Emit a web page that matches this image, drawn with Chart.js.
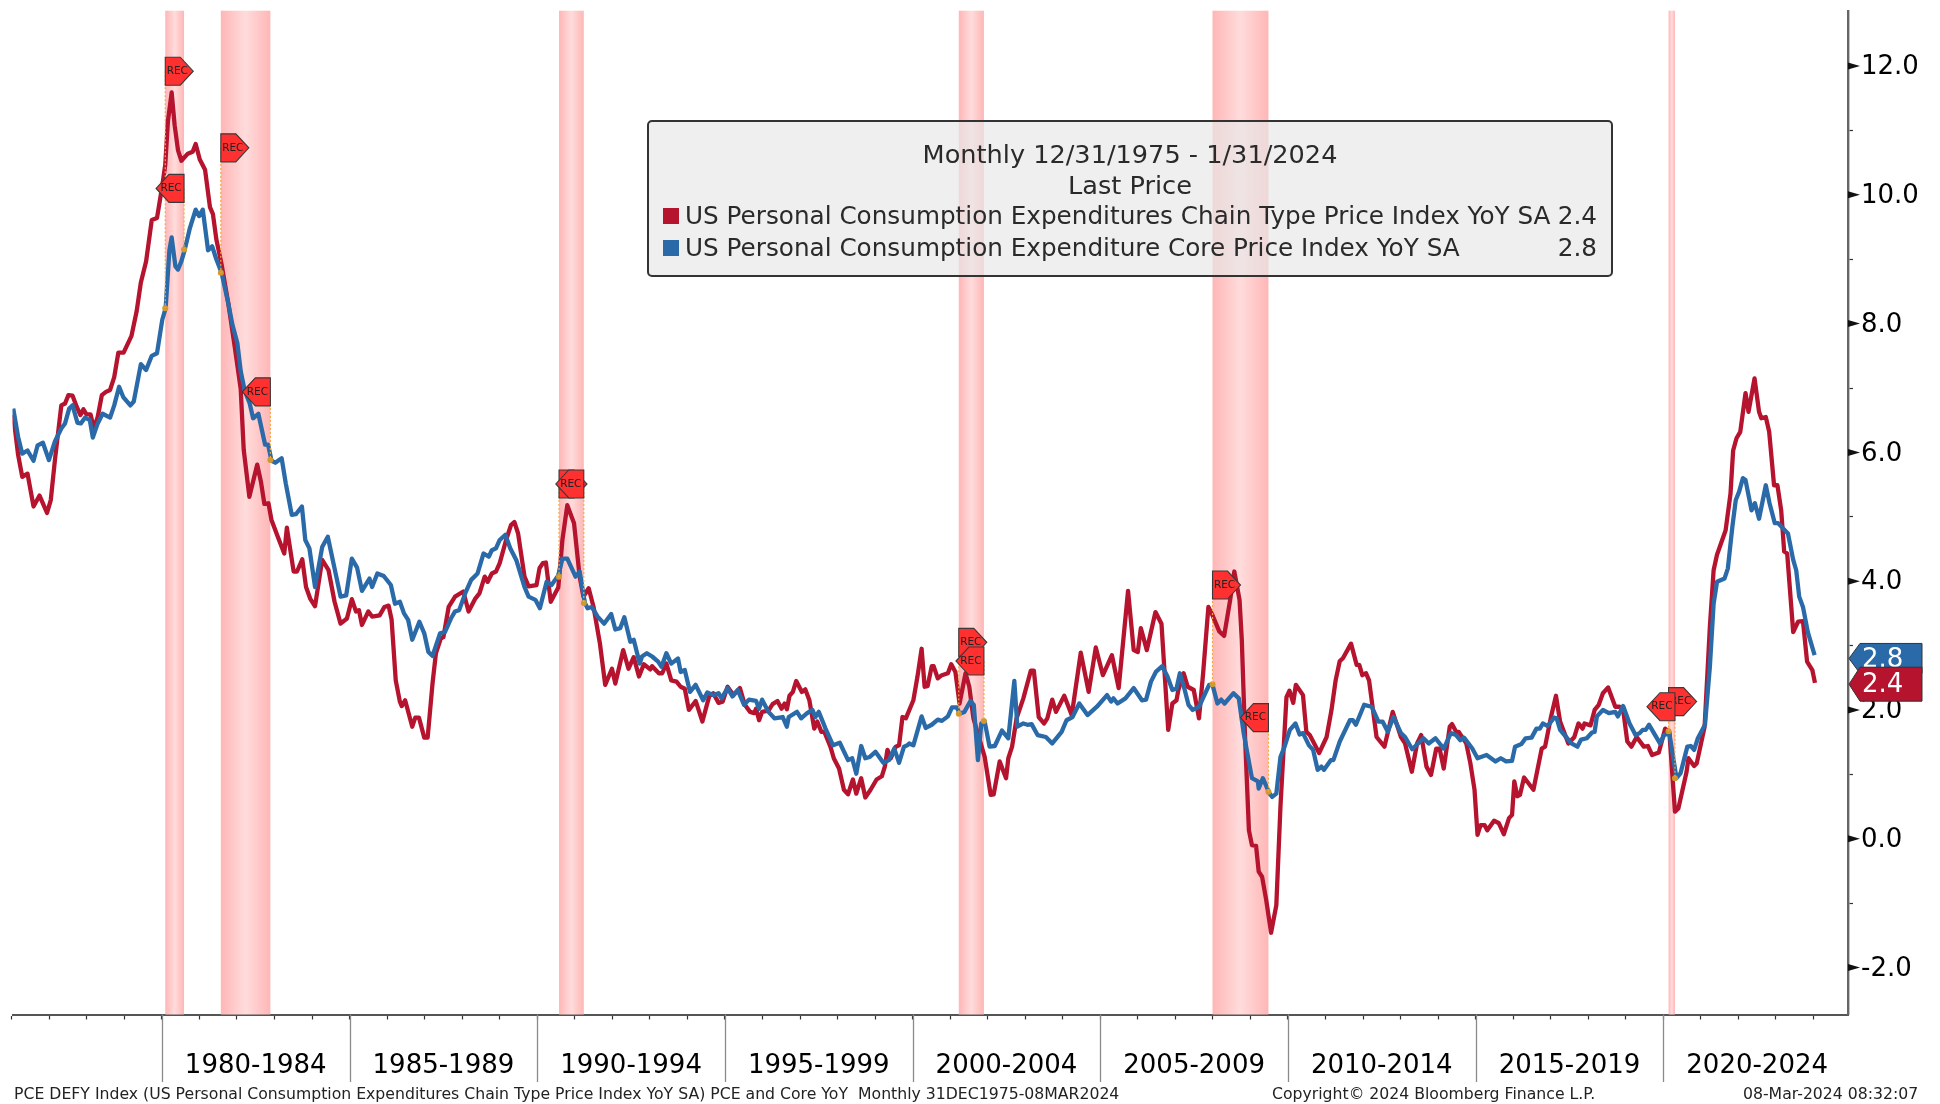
<!DOCTYPE html>
<html><head><meta charset="utf-8">
<script src="https://cdn.jsdelivr.net/npm/chart.js@4/dist/chart.umd.min.js"></script>
<style>
html,body{margin:0;padding:0;background:#fff;overflow:hidden;width:1940px;height:1104px;font-family:"DejaVu Sans",sans-serif}
#wrap{position:relative;width:1940px;height:1104px}
canvas{position:absolute;left:0;top:0}
#legend{position:absolute;left:647px;top:120px;width:966px;height:157px;box-sizing:border-box;border:2px solid #333;border-radius:5px;color:#2a2a2a;font-size:24.7px}
#legend .c{position:absolute;left:0;width:100%;text-align:center;line-height:32px;font-size:25.6px}
#legend .r{position:absolute;left:14px;right:14px;line-height:32px;white-space:nowrap}
#legend .r i{position:absolute;left:0;top:8px;width:16px;height:16px}
#legend .r span{position:absolute;left:22px}
#legend .r b{position:absolute;right:0;font-weight:normal}
.ft{position:absolute;top:1085px;font-size:15.7px;line-height:18px;color:#222;white-space:pre}
</style></head><body>
<div id="wrap">
<canvas id="c" width="1940" height="1104"></canvas>
<div id="legend">
<div class="c" style="top:16px" id="l1"></div>
<div class="c" style="top:47px" id="l2"></div>
<div class="r" style="top:78px"><i id="s1"></i><span id="n1"></span><b id="v1"></b></div>
<div class="r" style="top:110px"><i id="s2"></i><span id="n2"></span><b id="v2"></b></div>
</div>
<div class="ft" id="f1" style="left:14px"></div>
<div class="ft" id="f2" style="left:1272px"></div>
<div class="ft" id="f3" style="left:1743px"></div>
</div>
<script>
const pceYears=[1976.04,1976.17,1976.28,1976.42,1976.58,1976.74,1976.94,1977.04,1977.15,1977.32,1977.42,1977.51,1977.62,1977.73,1977.83,1977.91,1977.99,1978.10,1978.19,1978.29,1978.40,1978.51,1978.62,1978.73,1978.84,1978.98,1979.19,1979.33,1979.44,1979.58,1979.73,1979.87,1980.01,1980.09,1980.16,1980.26,1980.34,1980.43,1980.52,1980.69,1980.82,1980.90,1981.01,1981.15,1981.28,1981.36,1981.45,1981.59,1981.77,1981.94,1982.10,1982.18,1982.33,1982.54,1982.64,1982.73,1982.84,1982.92,1983.08,1983.26,1983.33,1983.51,1983.60,1983.74,1983.84,1983.95,1984.08,1984.27,1984.44,1984.60,1984.76,1984.93,1985.06,1985.17,1985.25,1985.33,1985.50,1985.60,1985.80,1985.93,1986.04,1986.12,1986.23,1986.34,1986.39,1986.48,1986.67,1986.75,1986.85,1986.99,1987.08,1987.21,1987.30,1987.43,1987.50,1987.64,1987.81,1988.03,1988.17,1988.35,1988.46,1988.60,1988.68,1988.79,1988.90,1989.00,1989.17,1989.30,1989.39,1989.49,1989.66,1989.77,1989.98,1990.06,1990.15,1990.23,1990.36,1990.56,1990.67,1990.80,1990.98,1991.13,1991.23,1991.37,1991.50,1991.67,1991.81,1991.99,1992.08,1992.29,1992.43,1992.57,1992.71,1992.84,1993.01,1993.06,1993.24,1993.33,1993.44,1993.57,1993.71,1993.82,1993.93,1994.04,1994.22,1994.40,1994.58,1994.69,1994.83,1994.94,1995.07,1995.23,1995.40,1995.53,1995.67,1995.78,1995.83,1995.91,1995.99,1996.16,1996.27,1996.40,1996.51,1996.59,1996.65,1996.72,1996.81,1996.90,1997.05,1997.14,1997.25,1997.38,1997.46,1997.57,1997.65,1997.81,1997.90,1998.04,1998.17,1998.28,1998.41,1998.50,1998.63,1998.74,1998.88,1999.04,1999.18,1999.26,1999.33,1999.42,1999.55,1999.64,1999.73,1999.82,2000.02,2000.13,2000.24,2000.32,2000.40,2000.51,2000.56,2000.67,2000.78,2000.94,2001.03,2001.14,2001.25,2001.41,2001.51,2001.62,2001.92,2002.08,2002.16,2002.32,2002.49,2002.55,2002.65,2002.77,2002.95,2003.15,2003.23,2003.36,2003.50,2003.59,2003.72,2003.82,2004.04,2004.24,2004.48,2004.69,2004.88,2005.07,2005.31,2005.49,2005.74,2005.89,2006.00,2006.08,2006.24,2006.47,2006.63,2006.81,2006.92,2007.03,2007.08,2007.22,2007.33,2007.49,2007.63,2007.74,2007.88,2007.99,2008.17,2008.30,2008.46,2008.57,2008.71,2008.77,2008.86,2008.96,2009.04,2009.15,2009.22,2009.31,2009.42,2009.55,2009.69,2009.80,2009.96,2010.04,2010.14,2010.21,2010.40,2010.49,2010.58,2010.83,2011.03,2011.16,2011.27,2011.38,2011.46,2011.68,2011.83,2011.90,2011.98,2012.08,2012.16,2012.36,2012.57,2012.79,2013.01,2013.12,2013.30,2013.44,2013.55,2013.69,2013.81,2013.95,2014.04,2014.15,2014.31,2014.37,2014.48,2014.55,2014.75,2014.86,2014.97,2015.05,2015.13,2015.24,2015.31,2015.49,2015.62,2015.75,2015.89,2015.97,2016.03,2016.11,2016.18,2016.29,2016.54,2016.76,2016.85,2017.01,2017.14,2017.25,2017.47,2017.63,2017.74,2017.85,2017.90,2018.06,2018.17,2018.28,2018.39,2018.53,2018.72,2018.83,2018.93,2019.04,2019.15,2019.29,2019.48,2019.59,2019.70,2019.88,2020.05,2020.16,2020.31,2020.40,2020.62,2020.67,2020.82,2020.89,2021.10,2021.24,2021.34,2021.43,2021.66,2021.79,2021.86,2021.95,2022.05,2022.19,2022.27,2022.43,2022.55,2022.61,2022.73,2022.82,2022.95,2023.04,2023.14,2023.22,2023.30,2023.46,2023.59,2023.72,2023.83,2023.97,2024.04];
const pceValues=[6.58,5.96,5.62,5.67,5.16,5.33,5.06,5.26,5.88,6.73,6.76,6.89,6.88,6.71,6.58,6.67,6.59,6.59,6.37,6.55,6.89,6.94,6.97,7.17,7.55,7.55,7.81,8.20,8.64,8.97,9.61,9.64,10.14,10.47,11.14,11.59,11.08,10.69,10.53,10.64,10.67,10.79,10.55,10.39,9.81,9.70,9.31,8.92,8.31,7.64,6.98,6.04,5.31,5.81,5.54,5.20,5.21,4.95,4.70,4.43,4.83,4.15,4.15,4.34,3.91,3.73,3.61,4.33,4.17,3.68,3.34,3.42,3.72,3.53,3.55,3.32,3.53,3.45,3.47,3.60,3.62,3.40,2.46,2.13,2.06,2.15,1.74,1.88,1.88,1.57,1.57,2.41,2.88,3.11,3.13,3.60,3.76,3.84,3.53,3.73,3.81,4.07,3.99,4.12,4.15,4.28,4.64,4.87,4.92,4.74,4.07,3.92,3.94,4.20,4.28,4.29,3.68,3.90,4.64,5.18,4.90,4.07,3.76,3.89,3.60,3.03,2.39,2.64,2.41,2.93,2.64,2.82,2.52,2.71,2.63,2.68,2.57,2.57,2.72,2.46,2.44,2.36,2.33,2.00,2.14,1.82,2.21,2.26,2.11,2.13,2.36,2.23,2.34,2.08,1.97,1.95,2.02,1.84,1.97,1.99,2.09,2.14,2.02,2.10,2.01,2.22,2.28,2.45,2.28,2.32,2.15,1.71,1.82,1.66,1.66,1.43,1.25,1.09,0.76,0.69,0.92,0.70,0.94,0.64,0.76,0.92,0.97,1.12,1.38,1.25,1.43,1.45,1.89,1.87,2.15,2.52,2.95,2.36,2.37,2.68,2.68,2.49,2.54,2.57,2.71,2.59,2.10,2.57,2.36,1.87,1.27,0.68,0.69,1.20,0.94,1.25,1.43,1.87,2.18,2.61,2.61,1.89,1.79,1.87,2.16,1.97,2.22,1.92,2.89,2.28,2.97,2.54,2.85,2.34,3.85,2.93,2.90,3.27,2.93,3.52,3.34,1.69,2.10,2.15,2.31,2.57,2.36,2.31,1.87,2.57,3.60,3.47,3.22,3.15,3.71,4.15,3.71,3.09,1.53,0.13,-0.10,-0.11,-0.51,-0.59,-0.95,-1.46,-1.03,0.50,2.20,2.30,2.11,2.39,2.23,1.66,1.61,1.33,1.58,2.00,2.46,2.76,2.80,3.03,2.70,2.70,2.54,2.57,2.46,1.58,1.43,1.97,1.58,1.48,1.04,1.48,1.61,1.12,0.99,1.40,1.40,1.09,1.74,1.78,1.66,1.66,1.48,1.17,0.76,0.06,0.21,0.21,0.13,0.28,0.24,0.07,0.32,0.37,0.89,0.66,0.68,0.95,0.76,1.40,1.43,1.90,2.22,1.82,1.48,1.58,1.79,1.71,1.79,1.76,2.00,2.08,2.26,2.35,2.05,2.05,2.00,1.51,1.43,1.58,1.43,1.44,1.30,1.34,1.71,1.66,0.42,0.47,1.04,1.25,1.13,1.17,1.74,3.29,4.17,4.41,4.79,5.36,6.03,6.22,6.32,6.92,6.63,7.15,6.63,6.53,6.55,6.32,5.49,5.49,5.10,4.46,4.43,3.21,3.37,3.38,2.75,2.62,2.42];
const coreYears=[1976.04,1976.17,1976.28,1976.42,1976.58,1976.69,1976.83,1976.99,1977.15,1977.32,1977.42,1977.53,1977.62,1977.75,1977.84,1977.95,1978.08,1978.16,1978.29,1978.42,1978.62,1978.73,1978.86,1978.97,1979.16,1979.25,1979.44,1979.58,1979.73,1979.87,1980.01,1980.10,1980.20,1980.26,1980.36,1980.43,1980.52,1980.61,1980.74,1980.90,1980.99,1981.09,1981.23,1981.34,1981.45,1981.59,1981.77,1981.88,1982.01,1982.10,1982.21,1982.34,1982.43,1982.57,1982.75,1982.83,1982.92,1983.02,1983.19,1983.30,1983.46,1983.57,1983.73,1983.82,1983.93,1984.08,1984.27,1984.42,1984.76,1984.91,1985.06,1985.20,1985.33,1985.53,1985.60,1985.74,1985.91,1986.10,1986.21,1986.34,1986.45,1986.56,1986.67,1986.86,1986.99,1987.10,1987.21,1987.41,1987.54,1987.70,1987.81,1987.92,1988.08,1988.24,1988.41,1988.57,1988.71,1988.79,1988.90,1989.00,1989.15,1989.28,1989.44,1989.66,1989.77,1989.95,1990.07,1990.25,1990.38,1990.56,1990.67,1990.80,1991.02,1991.13,1991.27,1991.34,1991.45,1991.61,1991.78,1991.97,1992.08,1992.21,1992.32,1992.48,1992.57,1992.73,1992.79,1992.92,1993.06,1993.22,1993.31,1993.44,1993.57,1993.75,1993.82,1993.93,1994.07,1994.22,1994.42,1994.53,1994.69,1994.83,1994.91,1995.07,1995.20,1995.34,1995.51,1995.64,1995.83,1995.91,1995.99,1996.16,1996.32,1996.54,1996.65,1996.70,1996.92,1997.03,1997.19,1997.33,1997.41,1997.50,1997.68,1997.88,1998.06,1998.28,1998.39,1998.50,1998.63,1998.74,1998.86,1999.01,1999.22,1999.37,1999.51,1999.64,1999.77,1999.86,1999.91,2000.02,2000.24,2000.35,2000.51,2000.67,2000.78,2000.94,2001.05,2001.18,2001.25,2001.38,2001.54,2001.63,2001.74,2001.83,2001.92,2002.05,2002.19,2002.38,2002.55,2002.71,2002.79,2002.95,2003.06,2003.17,2003.33,2003.55,2003.72,2003.97,2004.10,2004.26,2004.44,2004.66,2004.91,2005.18,2005.29,2005.35,2005.46,2005.67,2005.89,2006.11,2006.22,2006.35,2006.48,2006.65,2006.79,2006.92,2007.03,2007.12,2007.25,2007.35,2007.46,2007.63,2007.90,2007.99,2008.12,2008.22,2008.31,2008.55,2008.69,2008.82,2009.04,2009.20,2009.22,2009.33,2009.51,2009.58,2009.69,2009.80,2009.91,2010.05,2010.20,2010.31,2010.40,2010.56,2010.67,2010.79,2010.89,2010.96,2011.14,2011.21,2011.38,2011.65,2011.73,2011.81,2012.03,2012.23,2012.41,2012.52,2012.66,2012.81,2013.01,2013.12,2013.31,2013.61,2013.75,2013.93,2014.15,2014.34,2014.48,2014.59,2014.69,2014.91,2015.05,2015.29,2015.53,2015.67,2015.81,2015.97,2016.05,2016.22,2016.33,2016.49,2016.62,2016.71,2016.79,2016.92,2017.09,2017.16,2017.25,2017.41,2017.55,2017.71,2017.81,2017.96,2018.10,2018.17,2018.23,2018.39,2018.55,2018.72,2018.79,2018.93,2019.10,2019.26,2019.37,2019.45,2019.53,2019.62,2019.75,2019.91,2020.02,2020.16,2020.35,2020.46,2020.64,2020.73,2020.82,2020.92,2021.11,2021.24,2021.34,2021.43,2021.63,2021.72,2021.84,2021.93,2022.02,2022.12,2022.19,2022.35,2022.44,2022.55,2022.73,2022.83,2022.97,2023.06,2023.19,2023.32,2023.46,2023.54,2023.62,2023.72,2023.85,2024.03];
const coreValues=[6.68,6.24,5.98,6.03,5.87,6.11,6.15,5.88,6.17,6.37,6.45,6.68,6.73,6.46,6.45,6.54,6.50,6.23,6.45,6.60,6.54,6.73,7.02,6.86,6.73,6.79,7.37,7.28,7.50,7.54,8.06,8.24,9.14,9.34,8.89,8.84,8.97,9.15,9.47,9.77,9.67,9.77,9.14,9.20,9.00,8.79,8.31,7.98,7.70,7.26,6.95,6.76,6.53,6.60,6.12,6.12,5.87,5.84,5.91,5.52,5.03,5.04,5.16,4.64,4.51,3.91,4.53,4.69,3.76,3.78,4.35,4.21,3.85,4.04,3.91,4.12,4.08,3.94,3.65,3.68,3.50,3.40,3.09,3.37,3.19,2.90,2.84,3.19,3.21,3.42,3.53,3.55,3.81,4.02,4.12,4.43,4.38,4.48,4.51,4.64,4.72,4.51,4.33,3.91,3.76,3.71,3.58,3.99,3.94,4.09,4.35,4.35,4.07,4.15,3.66,3.58,3.60,3.45,3.34,3.49,3.25,3.27,3.44,3.06,3.09,2.72,2.83,2.88,2.83,2.75,2.67,2.88,2.72,2.80,2.59,2.62,2.28,2.39,2.15,2.27,2.23,2.26,2.18,2.34,2.21,2.31,2.08,2.16,2.14,2.02,2.16,1.97,1.87,1.89,1.74,1.89,1.97,1.87,1.95,2.00,1.89,1.97,1.71,1.45,1.49,1.22,1.25,1.01,1.44,1.25,1.27,1.35,1.18,1.22,1.40,1.18,1.43,1.45,1.48,1.45,1.90,1.72,1.77,1.85,1.83,1.90,2.04,2.04,1.94,1.97,2.14,2.08,1.22,1.79,1.82,1.43,1.44,1.68,1.56,2.45,1.74,1.79,1.77,1.78,1.61,1.58,1.48,1.66,1.84,1.89,2.10,1.92,2.05,2.23,2.13,2.18,2.10,2.18,2.34,2.15,2.16,2.44,2.59,2.68,2.52,2.31,2.33,2.57,2.31,2.08,2.00,2.05,2.39,2.39,2.10,2.16,2.10,2.26,2.18,1.64,0.94,0.89,0.78,0.94,0.70,0.65,0.70,1.27,1.43,1.69,1.79,1.62,1.64,1.45,1.38,1.07,1.12,1.07,1.22,1.22,1.51,1.84,1.84,1.77,2.08,2.05,1.82,1.82,1.66,1.89,1.64,1.58,1.39,1.56,1.48,1.56,1.40,1.64,1.61,1.53,1.57,1.40,1.25,1.30,1.20,1.25,1.20,1.21,1.43,1.47,1.56,1.57,1.71,1.71,1.79,1.75,1.88,1.87,1.69,1.58,1.48,1.43,1.54,1.56,1.65,1.66,1.90,2.00,1.95,1.97,1.90,2.06,1.79,1.61,1.64,1.69,1.69,1.77,1.64,1.48,1.61,1.64,0.94,1.02,1.43,1.44,1.38,1.56,1.77,2.67,3.65,3.99,4.04,4.20,4.85,5.26,5.39,5.60,5.57,5.10,5.21,4.97,5.49,5.21,4.90,4.90,4.82,4.74,4.33,4.17,3.76,3.60,3.21,2.85];

const periodLabels=['1980-1984','1985-1989','1990-1994','1995-1999','2000-2004','2005-2009','2010-2014','2015-2019','2020-2024'];
const periodStarts=[1980,1985,1990,1995,2000,2005,2010,2015,2020,2025];
const yearTicks=[1976,1977,1978,1979,1980,1981,1982,1983,1984,1985,1986,1987,1988,1989,1990,1991,1992,1993,1994,1995,1996,1997,1998,1999,2000,2001,2002,2003,2004,2005,2006,2007,2008,2009,2010,2011,2012,2013,2014,2015,2016,2017,2018,2019,2020,2021,2022,2023,2024];

const recessionStarts=[1980.09,1981.57,1990.58,2001.23,2007.99,2020.14];
const recessionEnds=[1980.59,1982.89,1991.24,2001.90,2009.48,2020.31];
const recStartFlagValues=[11.92,10.73,5.51,3.05,3.94,2.13];
const recEndFlagValues=[10.10,6.94,5.51,2.76,1.88,2.05];
const recStartDots=[8.24,8.79,4.07,1.94,2.40,1.67];
const recEndDots=[9.15,5.88,3.66,1.83,0.73,0.94];

const seriesNames=['US Personal Consumption Expenditures Chain Type Price Index YoY SA','US Personal Consumption Expenditure Core Price Index YoY SA'];
const lastPrices=[2.4,2.8];
const RED='#b5132e',BLUE='#2a6aa8';

document.getElementById('l1').textContent='Monthly 12/31/1975 - 1/31/2024';
document.getElementById('l2').textContent='Last Price';
document.getElementById('n1').textContent=seriesNames[0];
document.getElementById('n2').textContent=seriesNames[1];
document.getElementById('v1').textContent=lastPrices[0].toFixed(1);
document.getElementById('v2').textContent=lastPrices[1].toFixed(1);
document.getElementById('s1').style.background=RED;
document.getElementById('s2').style.background=BLUE;
document.getElementById('f1').textContent='PCE DEFY Index (US Personal Consumption Expenditures Chain Type Price Index YoY SA) PCE and Core YoY  Monthly 31DEC1975-08MAR2024';
document.getElementById('f2').textContent='Copyright© 2024 Bloomberg Finance L.P.';
document.getElementById('f3').textContent='08-Mar-2024 08:32:07';

const zip=(xs,ys)=>xs.map((x,i)=>({x,y:ys[i]}));
const dots=[...zip(recessionStarts,recStartDots),...zip(recessionEnds,recEndDots)];

const deco={
 id:'deco',
 beforeDraw(ch){
  if(ch.$nudged)return;ch.$nudged=true;
  ch.scales.y.getLabelItems().forEach(it=>{it.options.translation[1]+=1.5;});
 },
 beforeDatasetsDraw(ch){
  const {ctx,chartArea:a,scales:{x}}=ch;
  ctx.save();
  recessionStarts.forEach((s,i)=>{
   const l=x.getPixelForValue(s),r=x.getPixelForValue(recessionEnds[i]);
   const g=ctx.createLinearGradient(l,0,r,0);
   g.addColorStop(0,'#ffb6b6');g.addColorStop(.5,'#ffdcdc');g.addColorStop(1,'#ffb6b6');
   ctx.fillStyle=g;ctx.fillRect(l,a.top,r-l,a.bottom-a.top);
  });
  // translucent legend panel over the recession bands
  ctx.fillStyle='rgba(232,232,232,.68)';
  ctx.beginPath();ctx.roundRect(648,121,964,155,4);ctx.fill();
  ctx.restore();
 },
 afterDatasetsDraw(ch){
  const {ctx,chartArea:a,scales:{x,y}}=ch;
  ctx.save();
  ctx.strokeStyle='#f5a83c';ctx.lineWidth=1.2;ctx.setLineDash([2,2]);
  recessionStarts.forEach((s,i)=>{
   const xs=x.getPixelForValue(s),xe=x.getPixelForValue(recessionEnds[i]);
   ctx.beginPath();ctx.moveTo(xs,y.getPixelForValue(recStartFlagValues[i]));ctx.lineTo(xs,y.getPixelForValue(recStartDots[i]));ctx.stroke();
   ctx.beginPath();ctx.moveTo(xe,y.getPixelForValue(recEndFlagValues[i]));ctx.lineTo(xe,y.getPixelForValue(recEndDots[i]));ctx.stroke();
  });
  ctx.setLineDash([]);
  const flag=(px,py,dir)=>{
   const w=28,h=14,b=15;
   ctx.beginPath();
   if(dir>0){ctx.moveTo(px,py-h);ctx.lineTo(px+b,py-h);ctx.lineTo(px+w,py);ctx.lineTo(px+b,py+h);ctx.lineTo(px,py+h);}
   else{ctx.moveTo(px,py-h);ctx.lineTo(px-b,py-h);ctx.lineTo(px-w,py);ctx.lineTo(px-b,py+h);ctx.lineTo(px,py+h);}
   ctx.closePath();ctx.fillStyle='#ff3030';ctx.fill();ctx.strokeStyle='#3a3a3a';ctx.lineWidth=1.1;ctx.stroke();
   ctx.fillStyle='#222';ctx.font='10.5px "DejaVu Sans"';ctx.textAlign='center';ctx.textBaseline='middle';
   ctx.fillText('REC',dir>0?px+12:px-13,py);
  };
  recessionStarts.forEach((s,i)=>flag(x.getPixelForValue(s),y.getPixelForValue(recStartFlagValues[i]),1));
  recessionEnds.forEach((s,i)=>flag(x.getPixelForValue(s),y.getPixelForValue(recEndFlagValues[i]),-1));
  ctx.restore();
 },
 afterDraw(ch){
  const {ctx,chartArea:a,scales:{x,y}}=ch;
  ctx.save();
  ctx.strokeStyle='#8a8a8a';ctx.lineWidth=1.3;
  periodStarts.slice(0,-1).forEach(v=>{const p=Math.round(x.getPixelForValue(v))+.5;ctx.beginPath();ctx.moveTo(p,a.bottom);ctx.lineTo(p,1082);ctx.stroke();});
  ctx.fillStyle='#111';
  for(let v=-2;v<=12;v+=2){const p=y.getPixelForValue(v);ctx.beginPath();ctx.moveTo(a.right,p-3.5);ctx.lineTo(a.right+12,p);ctx.lineTo(a.right,p+3.5);ctx.closePath();ctx.fill();}
  const tag=(v,top,bot,col)=>{
   const m=(top+bot)/2;
   ctx.beginPath();ctx.moveTo(a.right+1,m);ctx.lineTo(a.right+12,top);ctx.lineTo(1922,top);ctx.lineTo(1922,bot);ctx.lineTo(a.right+12,bot);ctx.closePath();
   ctx.fillStyle=col;ctx.fill();ctx.strokeStyle='#333';ctx.lineWidth=1;ctx.stroke();
   ctx.fillStyle='#fff';ctx.font='26px "DejaVu Sans"';ctx.textAlign='left';ctx.textBaseline='middle';
   ctx.fillText(v.toFixed(1),1862,m+1.5);
  };
  tag(lastPrices[1],y.getPixelForValue(lastPrices[1])-15,y.getPixelForValue(lastPrices[1])+15,BLUE);
  tag(lastPrices[0],y.getPixelForValue(lastPrices[0])-17,y.getPixelForValue(lastPrices[0])+17,RED);
  ctx.restore();
 }
};

new Chart(document.getElementById('c'),{
 type:'line',
 data:{datasets:[
  {label:'Dots',data:dots,showLine:false,pointRadius:3,pointBackgroundColor:'#d29a2e',pointBorderWidth:0,order:0},
  {label:seriesNames[1],data:zip(coreYears,coreValues),borderColor:BLUE,borderWidth:4.3,pointRadius:0,tension:0,borderJoinStyle:'round',order:1},
  {label:seriesNames[0],data:zip(pceYears,pceValues),borderColor:RED,borderWidth:4.3,pointRadius:0,tension:0,borderJoinStyle:'round',order:2}
 ]},
 plugins:[deco],
 options:{
  responsive:false,animation:false,
  layout:{padding:{left:12.5,top:10.7,right:0,bottom:0}},
  plugins:{legend:{display:false},tooltip:{enabled:false},title:{display:false}},
  scales:{
   x:{type:'linear',min:1976.02,max:2024.92,
    afterFit(s){s.height=89.5;s.paddingLeft=0;s.paddingRight=0;},
    afterBuildTicks(s){
     s.ticks=[...yearTicks.map(v=>({value:v})),...periodStarts.slice(0,-1).map(v=>({value:v+2.5}))].sort((a,b)=>a.value-b.value);
    },
    grid:{drawOnChartArea:false,drawTicks:true,tickLength:5,tickWidth:1.2,tickColor:c=>(c.tick&&c.tick.value%1!==0)?'rgba(0,0,0,0)':'#333'},
    border:{color:'#555',width:2},
    ticks:{autoSkip:false,maxRotation:0,minRotation:0,padding:31,color:'#000',font:{family:'"DejaVu Sans"',size:26},
     callback(v){return v%1!==0?periodLabels[periodStarts.indexOf(v-2.5)]:'';}}
   },
   y:{position:'right',min:-2.73,max:12.86,
    afterFit(s){s.width=92;s.paddingTop=0;s.paddingBottom=0;},
    grid:{drawOnChartArea:false,drawTicks:true,tickLength:5,tickWidth:1.2,tickColor:c=>(c.tick&&Math.abs(c.tick.value%2)===0)?'rgba(0,0,0,0)':'#333'},
    border:{color:'#666',width:2.4},
    ticks:{stepSize:1,includeBounds:false,autoSkip:false,padding:8,color:'#000',font:{family:'"DejaVu Sans"',size:26},
     callback(v){return v%2===0?v.toFixed(1):'';}}
   }
  }
 }
});
</script>
</body></html>
